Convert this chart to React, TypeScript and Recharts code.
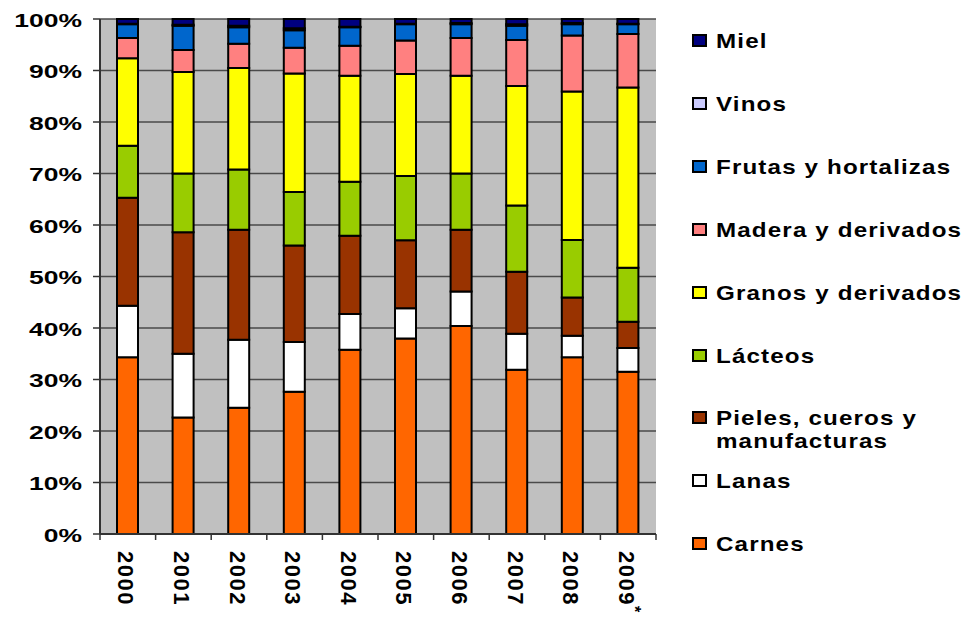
import { BarChart, Bar, XAxis, YAxis, CartesianGrid } from "recharts";

const YEARS = ["2000", "2001", "2002", "2003", "2004", "2005", "2006", "2007", "2008", "2009*"];

// shares in %, bottom to top of each stack
const CARNES = [34.3, 22.6, 24.5, 27.6, 35.8, 38.0, 40.4, 31.9, 34.3, 31.5];
const LANAS = [10.0, 12.4, 13.2, 9.7, 6.9, 5.9, 6.7, 7.0, 4.2, 4.6];
const PIELES = [21.0, 23.6, 21.4, 18.7, 15.2, 13.2, 12.0, 12.0, 7.4, 5.1];
const LACTEOS = [10.1, 11.4, 11.7, 10.4, 10.5, 12.5, 10.9, 12.9, 11.2, 10.5];
const GRANOS = [17.0, 19.7, 19.7, 23.0, 20.6, 19.8, 19.0, 23.2, 28.8, 35.0];
const MADERA = [3.9, 4.3, 4.7, 5.0, 5.8, 6.5, 7.3, 8.9, 10.9, 10.4];
const FRUTAS = [2.7, 4.7, 3.2, 3.4, 3.6, 3.2, 2.7, 2.8, 2.2, 1.9];
const VINOS = [0.1, 0.2, 0.3, 0.4, 0.1, 0.1, 0.2, 0.3, 0.2, 0.1];
const MIEL = [0.9, 1.1, 1.3, 1.8, 1.5, 0.9, 0.8, 1.0, 0.8, 0.9];

const Y_TICKS = [0, 0.1, 0.2, 0.3, 0.4, 0.5, 0.6, 0.7, 0.8, 0.9, 1];

const SERIES = [
  { key: "carnes", label: ["Carnes"], color: "#FF6600", values: CARNES },
  { key: "lanas", label: ["Lanas"], color: "#FFFFFF", values: LANAS },
  { key: "pieles", label: ["Pieles, cueros y", "manufacturas"], color: "#993300", values: PIELES },
  { key: "lacteos", label: ["Lácteos"], color: "#99CC00", values: LACTEOS },
  { key: "granos", label: ["Granos y derivados"], color: "#FFFF00", values: GRANOS },
  { key: "madera", label: ["Madera y derivados"], color: "#FF8080", values: MADERA },
  { key: "frutas", label: ["Frutas y hortalizas"], color: "#0066CC", values: FRUTAS },
  { key: "vinos", label: ["Vinos"], color: "#CCCCFF", values: VINOS },
  { key: "miel", label: ["Miel"], color: "#000080", values: MIEL },
];

const data = YEARS.map((year, i) => {
  const row: Record<string, string | number> = { year };
  SERIES.forEach((s) => {
    row[s.key] = s.values[i];
  });
  return row;
});

const FONT = "'Liberation Sans', Arial, sans-serif";
const W = 968;
const H = 618;
const MARGIN = { top: 19, right: 312, bottom: 0, left: 0 };
const Y_AXIS_W = 100;
const BAND = (W - MARGIN.left - MARGIN.right - Y_AXIS_W) / YEARS.length;

function YearTick(props: any) {
  const { x, y, payload, index } = props;
  const axisY = y - 8;
  const label = String(payload.value);
  const star = label.endsWith("*");
  const half = BAND / 2;
  return (
    <g>
      <line x1={x - half} x2={x - half} y1={axisY} y2={axisY + 6} stroke="#333" strokeWidth={1.5} />
      {index === YEARS.length - 1 && (
        <line x1={x + half} x2={x + half} y1={axisY} y2={axisY + 6} stroke="#333" strokeWidth={1.5} />
      )}
      <text
        transform={`translate(${x - 2},${axisY + 17}) rotate(90)`}
        textAnchor="start"
        dominantBaseline="central"
        fontFamily={FONT}
        fontWeight="bold"
        fontSize={22}
        letterSpacing={1.5}
        fill="#000"
      >
        {star ? label.slice(0, -1) : label}
        {star && (
          <tspan dy={-9} fontSize={16}>
            *
          </tspan>
        )}
      </text>
    </g>
  );
}

function PctTick(props: any) {
  const { x, y, payload } = props;
  return (
    <text
      transform={`translate(${x},${y + 2}) scale(1.47,1)`}
      textAnchor="end"
      dominantBaseline="central"
      fontFamily={FONT}
      fontWeight="bold"
      fontSize={18}
      fill="#000"
    >
      {Math.round(payload.value * 100)}%
    </text>
  );
}

function ChartLegend() {
  const items = [...SERIES].reverse();
  return (
    <div style={{ position: "absolute", left: 0, top: 0, fontFamily: FONT }}>
      {items.map((s, i) => {
        const cy = 40 + i * 62.9;
        return (
          <div key={s.key} style={{ position: "absolute", left: 692, top: cy - 11, whiteSpace: "nowrap" }}>
            <div
              style={{
                position: "absolute",
                left: 0,
                top: 5,
                width: 11,
                height: 9,
                background: s.color,
                border: "2px solid #000",
              }}
            />
            <div
              style={{
                position: "absolute",
                left: 24,
                top: 0,
                fontSize: 21,
                lineHeight: "23px",
                fontWeight: "bold",
                letterSpacing: 1,
                transform: "scaleX(1.15)",
                transformOrigin: "left top",
              }}
            >
              {s.label.map((line) => (
                <div key={line}>{line}</div>
              ))}
            </div>
          </div>
        );
      })}
    </div>
  );
}

export default function App() {
  return (
    <div style={{ position: "absolute", left: 0, top: 0, width: W, height: H, background: "#fff" }}>
      <BarChart width={W} height={H} data={data} margin={MARGIN} stackOffset="expand" barSize={21}>
        <CartesianGrid vertical={false} fill="#C0C0C0" stroke="#4a4a4a" strokeWidth={1.5} />
        <XAxis
          dataKey="year"
          height={84}
          interval={0}
          tickLine={false}
          axisLine={{ stroke: "#333", strokeWidth: 2 }}
          tick={<YearTick />}
        />
        <YAxis
          width={Y_AXIS_W}
          domain={[0, 1]}
          ticks={Y_TICKS}
          interval={0}
          tickSize={7}
          tickMargin={11}
          tickLine={{ stroke: "#333", strokeWidth: 1.5 }}
          axisLine={{ stroke: "#333", strokeWidth: 2 }}
          tick={<PctTick />}
        />
        <YAxis
          yAxisId="right"
          orientation="right"
          width={0}
          tick={false}
          tickLine={false}
          axisLine={{ stroke: "#808080", strokeWidth: 3 }}
        />
        {SERIES.map((s) => (
          <Bar
            key={s.key}
            dataKey={s.key}
            name={s.label.join(" ")}
            stackId="a"
            fill={s.color}
            stroke="#000"
            strokeWidth={2}
            isAnimationActive={false}
          />
        ))}
      </BarChart>
      <ChartLegend />
    </div>
  );
}
